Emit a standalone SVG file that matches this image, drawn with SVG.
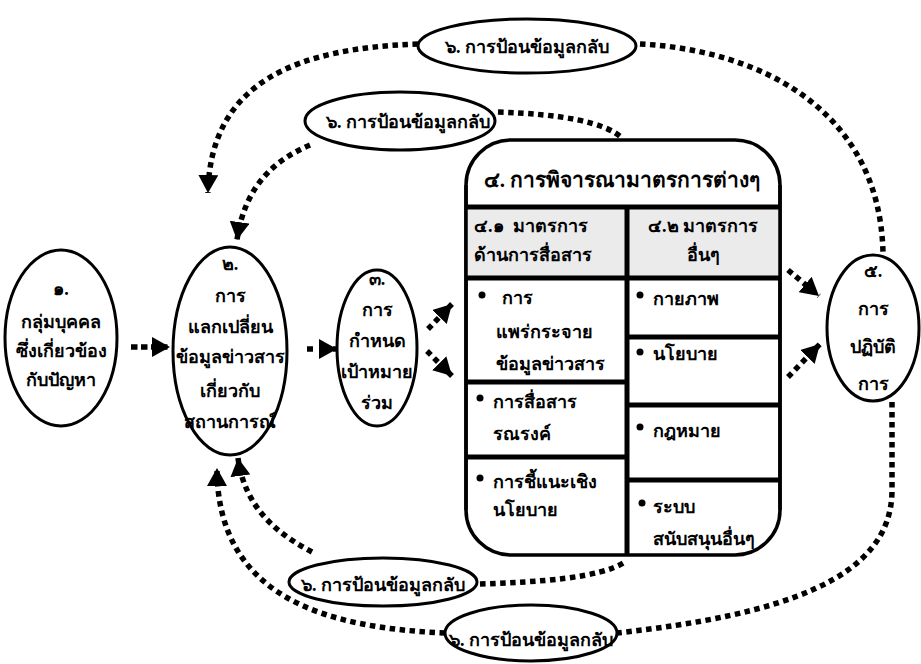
<svg xmlns="http://www.w3.org/2000/svg" width="921" height="664" viewBox="0 0 921 664">
<defs>
<style>
.t{font-family:"Liberation Serif","DejaVu Serif",serif;font-size:18px;font-weight:bold;fill:#000}
.c{text-anchor:middle}
.n{fill:#fff;stroke:#000;stroke-width:3}
.d{fill:none;stroke:#000;stroke-width:5.5;stroke-dasharray:5.5 4.5}
.g{stroke:#000;stroke-width:5}
</style>
<marker id="ah" viewBox="0 0 18 20" refX="18" refY="10" markerWidth="18" markerHeight="20" markerUnits="userSpaceOnUse" orient="auto"><path d="M0,0L18,10L0,20z" fill="#000"/></marker>
</defs>
<rect width="921" height="664" fill="#fff"/>
<g id="connectors">
<path class="d" d="M131 347L170 347" style="stroke-dasharray:6.5 3.5" marker-end="url(#ah)"/>
<path class="d" d="M307 349L337 349" style="stroke-dasharray:6 7" marker-end="url(#ah)"/>
<path class="d" d="M428 329L452 304" marker-end="url(#ah)"/>
<path class="d" d="M427 351L452 376" marker-end="url(#ah)"/>
<path class="d" d="M788 270L819 296" marker-end="url(#ah)"/>
<path class="d" d="M788 377L820 344" marker-end="url(#ah)"/>
<path class="d" d="M418 44C300 48 210 80 208 193" marker-end="url(#ah)"/>
<path class="d" d="M640 44C760 50 880 110 883 253"/>
<path class="d" d="M310 145C275 160 245 185 237 240" marker-end="url(#ah)"/>
<path class="d" d="M498 112C560 114 605 122 622 138"/>
<path class="d" d="M892 402L892 490C892 580 780 615 617 633"/>
<path class="d" d="M445 633C330 628 217 600 217 468" marker-end="url(#ah)"/>
<path class="d" d="M312 552C280 535 245 510 238 458" marker-end="url(#ah)"/>
<path class="d" d="M480 584C540 582 600 578 625 562"/>
</g>
<g id="n1"><ellipse class="n" cx="61" cy="338" rx="56" ry="88"/>
<text class="t c" x="61" y="295">๑.</text>
<text class="t c" x="61" y="328">กลุ่มบุคคล</text>
<text class="t c" x="61" y="357">ซึ่งเกี่ยวข้อง</text>
<text class="t c" x="61" y="386">กับปัญหา</text></g>
<g id="n2"><ellipse class="n" cx="230" cy="351" rx="57" ry="104"/>
<text class="t c" x="230" y="270">๒.</text>
<text class="t c" x="230" y="302">การ</text>
<text class="t c" x="230" y="333">แลกเปลี่ยน</text>
<text class="t c" x="230" y="363">ข้อมูลข่าวสาร</text>
<text class="t c" x="230" y="397">เกี่ยวกับ</text>
<text class="t c" x="230" y="428">สถานการณ์</text></g>
<g id="n3"><ellipse class="n" cx="377" cy="348" rx="40" ry="78"/>
<text class="t c" x="377" y="285">๓.</text>
<text class="t c" x="377" y="316">การ</text>
<text class="t c" x="377" y="347">กำหนด</text>
<text class="t c" x="377" y="378">เป้าหมาย</text>
<text class="t c" x="377" y="409">ร่วม</text></g>
<g id="n4">
<path d="M511 140H735A45 45 0 0 1 780 185V510A45 45 0 0 1 735 555H511A45 45 0 0 1 466 510V185A45 45 0 0 1 511 140Z" fill="#fff" stroke="#000" stroke-width="3.5"/>
<rect x="466" y="207" width="314" height="71" fill="#ebebeb"/>
<path class="g" d="M466 207H780M466 278H780M466 382H627M466 457H627M627 337H780M627 405H780M627 480H780M627 207V555"/>
<path d="M466 185V510M780 185V510" stroke="#000" stroke-width="3.5"/>
<text class="t c" x="622" y="187" style="font-size:21px">๔. การพิจารณามาตรการต่างๆ</text>
<text class="t" x="474" y="232" style="white-space:pre">๔.๑  มาตรการ</text>
<text class="t" x="474" y="261">ด้านการสื่อสาร</text>
<text class="t c" x="703" y="232">๔.๒ มาตรการ</text>
<text class="t c" x="703" y="261">อื่นๆ</text>
<g id="bul"><circle cx="482" cy="295" r="3.5"/><circle cx="480" cy="398" r="3.5"/><circle cx="480" cy="478" r="3.5"/><circle cx="640" cy="295" r="3.5"/><circle cx="640" cy="352" r="3.5"/><circle cx="640" cy="427" r="3.5"/><circle cx="642" cy="503" r="3.5"/></g>
<text class="t" x="502" y="304">การ</text>
<text class="t" x="496" y="338">แพร่กระจาย</text>
<text class="t" x="496" y="370">ข้อมูลข่าวสาร</text>
<text class="t" x="493" y="408">การสื่อสาร</text>
<text class="t" x="493" y="440">รณรงค์</text>
<text class="t" x="493" y="488">การชี้แนะเชิง</text>
<text class="t" x="493" y="516">นโยบาย</text>
<text class="t" x="653" y="305">กายภาพ</text>
<text class="t" x="653" y="360">นโยบาย</text>
<text class="t" x="653" y="437">กฎหมาย</text>
<text class="t" x="653" y="513">ระบบ</text>
<text class="t" x="653" y="545">สนับสนุนอื่นๆ</text>
</g>
<g id="n5"><ellipse class="n" cx="873" cy="328" rx="46" ry="73"/>
<text class="t c" x="873" y="277">๕.</text>
<text class="t c" x="873" y="315">การ</text>
<text class="t c" x="873" y="353">ปฏิบัติ</text>
<text class="t c" x="873" y="390">การ</text></g>
<g id="f1"><ellipse class="n" cx="527" cy="46" rx="109" ry="27"/>
<text class="t c" x="527" y="53">๖. การป้อนข้อมูลกลับ</text></g>
<g id="f2"><ellipse class="n" cx="400" cy="121" rx="95" ry="29"/>
<text class="t c" x="408" y="128">๖. การป้อนข้อมูลกลับ</text></g>
<g id="f3"><ellipse class="n" cx="383" cy="582" rx="94" ry="24"/>
<text class="t c" x="383" y="591">๖. การป้อนข้อมูลกลับ</text></g>
<g id="f4"><ellipse class="n" cx="531" cy="633" rx="86" ry="28"/>
<text class="t c" x="531" y="646">๖. การป้อนข้อมูลกลับ</text></g>
</svg>
